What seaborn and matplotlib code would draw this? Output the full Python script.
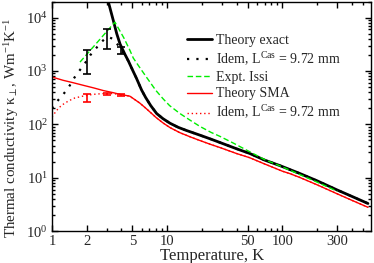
import numpy as np
import pandas as pd
import seaborn as sns
import matplotlib
matplotlib.use("Agg")
import matplotlib.pyplot as plt
from matplotlib.ticker import LogLocator, NullFormatter

# Theory exact (thick black)
t_exact = [2.95, 3.08, 3.4, 3.65, 3.9, 4.3, 4.6, 5.0, 5.4, 6.0, 6.5, 7.2, 8.1, 9.2, 10.6,
           12.5, 14.7, 19.2, 24, 28.6, 40, 52, 70, 96, 116, 141, 200, 300, 400, 554]
k_exact = [28000, 20000, 9000, 5000, 3200, 2050, 1550, 1050, 740, 440, 320, 225, 160, 128, 105,
           88, 77, 63, 53, 46, 35, 28.6, 21.5, 16.8, 14.3, 12.1, 8.8, 5.9, 4.5, 3.3]

# Idem with Casimir length (black dotted)
t_exact_cas = [1.0, 1.06, 1.2, 1.3, 1.43, 1.53, 1.67, 1.83, 2.0, 2.14, 2.36, 2.6, 2.88, 3.1,
               3.4, 3.64, 3.9, 4.2, 4.6, 5.0, 5.4, 6.0, 6.5, 7.2, 8.1, 9.2, 10.6, 12.5, 14.7,
               19.2, 24, 28.6, 40, 52, 70, 96, 116, 141, 200, 300, 400, 554]
k_exact_cas = [200, 245, 327, 405, 540, 700, 920, 1190, 1550, 1960, 2510, 3240, 4040, 4300,
               4000, 3320, 2700, 2100, 1550, 1050, 740, 440, 320, 225, 160, 128, 105, 88, 77,
               63, 53, 46, 35, 28.6, 21.5, 16.8, 14.3, 12.1, 8.8, 5.9, 4.5, 3.3]

# Experiment, Issi (green dashed)
t_issi = [1.75, 2.5, 3.0, 3.52, 4.2, 4.75, 5.08, 5.8, 6.63, 8, 9.24, 10.5, 12.9, 16, 19.2,
          24, 28.6, 37.3, 52, 70, 100, 150, 200, 300]
k_issi = [1470, 3540, 5570, 8240, 4200, 2440, 1750, 1150, 760, 430, 300, 225, 160, 118, 92,
          71, 60, 45, 30.8, 22, 16, 10.9, 8.3, 5.6]

# Theory SMA (red)
t_sma = [1.0, 1.25, 1.5, 1.87, 2.3, 2.8, 3.4, 3.9, 4.3, 4.74, 5.08, 5.8, 6.63, 8, 9.24, 10.6,
         12.9, 16, 19.2, 24, 28.6, 40, 52, 70, 100, 116, 141, 200, 300, 400, 554]
k_sma = [773, 670, 610, 540, 483, 430, 393, 365, 352, 338, 305, 250, 195, 135, 106, 87,
         70, 58, 50, 42, 37, 28.5, 23.8, 18.2, 13.3, 12.0, 10.2, 7.4, 5.0, 3.8, 2.8]

# Idem SMA with Casimir length (red dotted)
t_sma_cas = [1.0, 1.1, 1.21, 1.39, 1.58, 1.87, 2.28, 2.79, 3.4, 3.9, 4.3, 4.74, 5.08, 5.8,
             6.63, 8, 9.24, 10.6, 12.9, 16, 19.2, 24, 28.6, 40, 52, 70, 100, 116, 141, 200,
             300, 400, 554]
k_sma_cas = [138, 184, 228, 275, 313, 340, 366, 378, 378, 362, 350, 338, 305, 250,
             195, 135, 106, 87, 70, 58, 50, 42, 37, 28.5, 23.8, 18.2, 13.3, 12.0, 10.2, 7.4,
             5.0, 3.8, 2.8]

# error bars
t_err = [2, 3, 4]
k_err_black = [1500, 4000, 2450]
lo_black = [870, 2620, 2110]
hi_black = [2510, 6200, 2800]
k_err_red = [318, 370, 355]
lo_red = [263, 350, 345]
hi_red = [378, 395, 365]

legend_cas = "Idem, L$^{\\mathrm{Cas}}$ = 9.72 mm"

sns.set_style("ticks")
plt.rcParams["font.family"] = ["Liberation Serif", "DejaVu Serif"]
plt.rcParams["mathtext.fontset"] = "custom"
plt.rcParams["mathtext.rm"] = "Liberation Serif"
plt.rcParams["mathtext.it"] = "Liberation Serif:italic"
plt.rcParams["mathtext.bf"] = "Liberation Serif:bold"

fig = plt.figure(figsize=(3.74, 2.63), dpi=100)
ax = fig.add_axes([0.139, 0.121, 0.854, 0.873])

sns.lineplot(x=t_exact, y=k_exact, ax=ax, color="black", lw=2.0, sort=False,
             label="Theory exact")
sns.lineplot(x=t_exact_cas, y=k_exact_cas, ax=ax, color="black", lw=1.6, sort=False,
             linestyle=(0, (1, 3.2)), label=legend_cas)
sns.lineplot(x=t_issi, y=k_issi, ax=ax, color="#00ee00", lw=1.0, sort=False,
             linestyle=(0, (4, 2)), label="Expt. Issi")
sns.lineplot(x=t_sma, y=k_sma, ax=ax, color="red", lw=1.0, sort=False,
             label="Theory SMA")
sns.lineplot(x=t_sma_cas, y=k_sma_cas, ax=ax, color="red", lw=1.0, sort=False,
             linestyle=(0, (1, 2)), label=legend_cas)

ax.errorbar(t_err, k_err_black,
            yerr=[np.subtract(k_err_black, lo_black), np.subtract(hi_black, k_err_black)],
            fmt="none", ecolor="black", elinewidth=1.2, capsize=2.6, capthick=1.2)
ax.errorbar(t_err, k_err_red,
            yerr=[np.subtract(k_err_red, lo_red), np.subtract(hi_red, k_err_red)],
            fmt="none", ecolor="red", elinewidth=1.2, capsize=2.6, capthick=1.2)

ax.set_xscale("log")
ax.set_yscale("log")
ax.set_xlim(1, 593)
ax.set_ylim(1, 2e4)

ax.set_xticks([1, 2, 5, 10, 50, 100, 300], ["1", "2", "5", "10", "50", "100", "300"])
ax.xaxis.set_minor_locator(LogLocator(base=10, subs=np.arange(2, 10)))
ax.xaxis.set_minor_formatter(NullFormatter())
ax.yaxis.set_major_locator(LogLocator(base=10, numticks=10))
ax.yaxis.set_minor_locator(LogLocator(base=10, subs=np.arange(2, 10), numticks=10))
ax.yaxis.set_minor_formatter(NullFormatter())

ax.tick_params(which="both", direction="in", top=True, right=True, labelsize=10.5,
               color="black", width=1.0)
ax.tick_params(which="major", length=4.5, pad=3)
ax.tick_params(which="minor", length=2.2)
for s in ax.spines.values():
    s.set_linewidth(1.0)
    s.set_color("black")

ax.set_xlabel("Temperature, K", fontsize=12, labelpad=0)
ax.set_ylabel("Thermal conductivity κ$_\\perp$, Wm$^{-1}$K$^{-1}$", fontsize=10.8)
ax.yaxis.set_label_coords(-0.098, 0.45)

ax.legend(loc="upper left", bbox_to_anchor=(0.405, 0.885), frameon=False, fontsize=10,
          handlelength=1.8, handletextpad=0.3, labelspacing=0.25, borderaxespad=0)

fig.savefig("out.png", dpi=100)
